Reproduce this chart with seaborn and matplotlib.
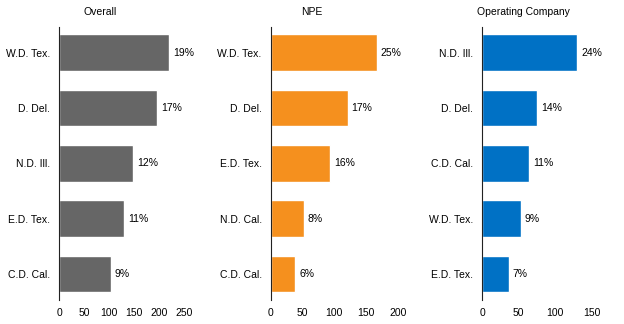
import matplotlib
matplotlib.use("Agg")
import matplotlib.pyplot as plt
import seaborn as sns
import pandas as pd

sns.set_theme(style="white")
plt.rcParams['font.family'] = ['Liberation Sans', 'DejaVu Sans']

overall_cats = ["W.D. Tex.", "D. Del.", "N.D. Ill.", "E.D. Tex.", "C.D. Cal."]
overall_vals = [220, 196, 148, 130, 103]
overall_pct = ["19%", "17%", "12%", "11%", "9%"]

npe_cats = ["W.D. Tex.", "D. Del.", "E.D. Tex.", "N.D. Cal.", "C.D. Cal."]
npe_vals = [167, 121, 93, 52, 39]
npe_pct = ["25%", "17%", "16%", "8%", "6%"]

opco_cats = ["N.D. Ill.", "D. Del.", "C.D. Cal.", "W.D. Tex.", "E.D. Tex."]
opco_vals = [130, 75, 64, 53, 36]
opco_pct = ["24%", "14%", "11%", "9%", "7%"]

titles = ["Overall", "NPE", "Operating Company"]
xticks = [[0, 50, 100, 150, 200, 250], [0, 50, 100, 150, 200], [0, 50, 100, 150]]
colors = ["#666666", "#F5901E", "#0071C5"]

W, H = 624, 324
fig = plt.figure(figsize=(W / 100, H / 100), dpi=100)

# layout (pixels): axis left, xmax, px per unit, title center
layout = [
    (59.3, 260, 0.5, 100),
    (270.7, 200, 0.635, 312),
    (482.3, 175, 0.729, 523),
]
panels = [
    (overall_cats, overall_vals, overall_pct),
    (npe_cats, npe_vals, npe_pct),
    (opco_cats, opco_vals, opco_pct),
]
top_px, bot_px = 26.7, 300.0
fs = 7.5

for i, ((cats, vals, pct), (left, xmax, ppu, tc)) in enumerate(zip(panels, layout)):
    width_px = xmax * ppu
    ax = fig.add_axes([left / W, (H - bot_px) / H, width_px / W, (bot_px - top_px) / H])
    df = pd.DataFrame({"cat": cats, "val": vals})
    sns.barplot(data=df, x="val", y="cat", order=cats, color=colors[i],
                width=0.66, saturation=1, ax=ax, orient="h")
    ax.set_xlim(0, xmax)
    ax.set_ylim(4.47, -0.47)
    ax.set_xlabel("")
    ax.set_ylabel("")
    ax.set_xticks(xticks[i])
    ax.tick_params(axis="both", length=0, labelsize=fs, colors="black")
    ax.tick_params(axis="y", pad=6.5)
    ax.tick_params(axis="x", pad=6.0)
    for s in ["top", "right", "bottom"]:
        ax.spines[s].set_visible(False)
    ax.spines["left"].set_color("#222222")
    ax.spines["left"].set_linewidth(0.8)
    for j, (v, p) in enumerate(zip(vals, pct)):
        ax.text(v + 4 / ppu, j, p, va="center", ha="left", fontsize=fs, color="black")
    fig.text(tc / W, 1 - 12 / H, titles[i], ha="center", va="center", fontsize=fs, color="black")

fig.savefig("out.png", dpi=100)
